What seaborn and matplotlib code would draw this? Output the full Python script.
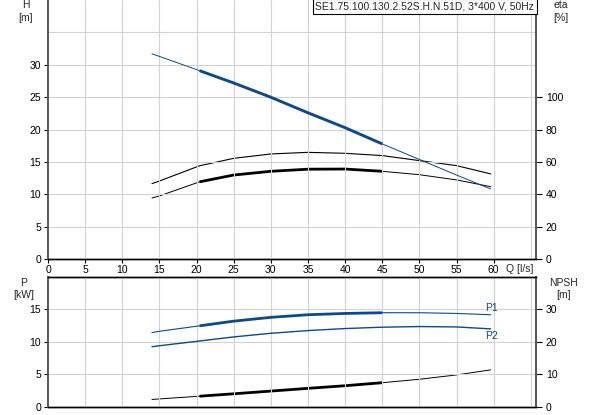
import numpy as np
import pandas as pd
import matplotlib
matplotlib.use("Agg")
import matplotlib.pyplot as plt
import seaborn as sns

# Pump curve data (Q in l/s)
q = [14, 15, 20.4, 25, 30, 35, 40, 45, 50, 55, 59.6]
head = [31.7, 31.3, 29.1, 27.2, 25.0, 22.6, 20.3, 17.8, 15.4, 13.0, 10.85]
eta_upper = [46.7, 48.3, 57.7, 62.3, 65.0, 66.0, 65.4, 64.0, 60.9, 57.8, 52.7]
eta_lower = [37.8, 39.1, 47.8, 52.0, 54.3, 55.6, 55.7, 54.3, 52.2, 49.0, 44.8]
p1 = [11.43, 11.63, 12.47, 13.19, 13.78, 14.18, 14.38, 14.49, 14.49, 14.38, 14.18]
p2 = [9.25, 9.4, 10.13, 10.76, 11.32, 11.74, 12.05, 12.26, 12.36, 12.3, 12.0]
npsh = [2.24, 2.4, 3.24, 3.98, 4.82, 5.66, 6.47, 7.4, 8.46, 9.8, 11.35]

# duty range (20.4 .. 45 l/s) drawn with a thicker line
duty = slice(2, 8)

title = "SE1.75.100.130.2.52S.H.N.51D, 3*400 V, 50Hz"

sns.set_theme(style="white")
plt.rcParams['font.family'] = ['Liberation Sans', 'DejaVu Sans']
FS = 7.5

blue = "#0b4a8b"
grid_c = "#d3d3d3"
spine_c = "#5a5a5a"

fig = plt.figure(figsize=(5.93, 4.15), dpi=100)
W, H = 593, 415


def box(l, t, r, b):
    return [l / W, 1 - b / H, (r - l) / W, (b - t) / H]


def curve(ax, y, color, thin, thick=None):
    sns.lineplot(x=q, y=y, ax=ax, color=color, lw=thin, sort=False, estimator=None)
    if thick:
        sns.lineplot(x=q[duty], y=y[duty], ax=ax, color=color, lw=thick,
                     sort=False, estimator=None, solid_capstyle="butt")


def style(ax, twin, ylim, tw_lim, yt, ygrid, tt):
    ax.set_xlim(0, 65.7)
    ax.set_ylim(*ylim)
    twin.set_ylim(*tw_lim)
    ax.set_xticks(list(range(0, 65, 5)))
    ax.set_xticks([65], minor=True)
    ax.set_yticks(yt)
    ax.set_yticklabels([str(v) for v in yt])
    ax.set_yticks(ygrid, minor=True)
    twin.set_yticks(tt)
    twin.set_yticklabels([str(v) for v in tt])
    ax.grid(True, which="both", color=grid_c, lw=0.8)
    ax.tick_params(which="minor", length=0)
    ax.tick_params(axis="y", length=3, width=0.8, pad=2, colors="black", labelsize=FS)
    twin.tick_params(axis="y", length=4, width=0.8, pad=3, colors="black", labelsize=FS,
                     right=True, left=False)
    for a in (ax, twin):
        for s in ("left", "right"):
            a.spines[s].set_color(spine_c)
            a.spines[s].set_linewidth(1.4)
        for s in ("top", "bottom"):
            a.spines[s].set_color("black")
            a.spines[s].set_linewidth(1.0)
    twin.grid(False)


# ---- top panel: head and efficiency ----
ax1 = fig.add_axes(box(48, 0, 536, 259.3))
ax1b = ax1.twinx()
style(ax1, ax1b, (0, 40), (0, 160), [0, 5, 10, 15, 20, 25, 30], [35],
      [0, 20, 40, 60, 80, 100])
for a in (ax1, ax1b):
    a.spines["top"].set_visible(False)
ax1.set_xticklabels([str(v) for v in range(0, 65, 5)])
ax1.tick_params(axis="x", which="major", length=3, width=0.8, pad=1, colors="black",
                labelsize=FS, bottom=True)

curve(ax1b, eta_upper, "black", 0.8)
curve(ax1b, eta_lower, "black", 0.7, 2.0)
curve(ax1, head, blue, 0.7, 2.1)
ax1.set_zorder(ax1b.get_zorder() + 1)
ax1.patch.set_visible(False)

fig.text(1 - 59 / W, 1 - 1.5 / H, title, ha="right", va="top", fontsize=FS,
         bbox=dict(boxstyle="square,pad=0.25", fc="white", ec="black", lw=0.8))

# ---- bottom panel: power and NPSH ----
ax2 = fig.add_axes(box(48, 277, 536, 406.7))
ax2b = ax2.twinx()
style(ax2, ax2b, (0, 20), (0, 40), [0, 5, 10, 15], [], [0, 10, 20, 30])
ax2.set_xticklabels([])
ax2.tick_params(axis="x", length=0)

curve(ax2b, npsh, "black", 0.7, 2.0)
curve(ax2, p1, blue, 0.8, 2.0)
curve(ax2, p2, blue, 1.0)
ax2.set_zorder(ax2b.get_zorder() + 1)
ax2.patch.set_visible(False)
ax2.text(58.9, 15.2, "P1", color=blue, fontsize=FS, ha="left", va="center")
ax2.text(58.9, 10.96, "P2", color=blue, fontsize=FS, ha="left", va="center")

for a in (ax1, ax1b, ax2, ax2b):
    a.set_xlabel("")
    a.set_ylabel("")

# axis captions
cap = dict(ha="center", va="top", fontsize=FS, linespacing=1.3)
fig.text(26 / W, 1 - 0.5 / H, "H\n[m]", **cap)
fig.text(561 / W, 1 - 0.5 / H, "eta\n[%]", **cap)
fig.text(24 / W, 1 - 278 / H, "P\n[kW]", **cap)
fig.text(564 / W, 1 - 278 / H, "NPSH\n[m]", **cap)
fig.text(520 / W, 1 - 269 / H, "Q [l/s]", ha="center", va="center", fontsize=FS)

fig.savefig("out.png", dpi=100)
